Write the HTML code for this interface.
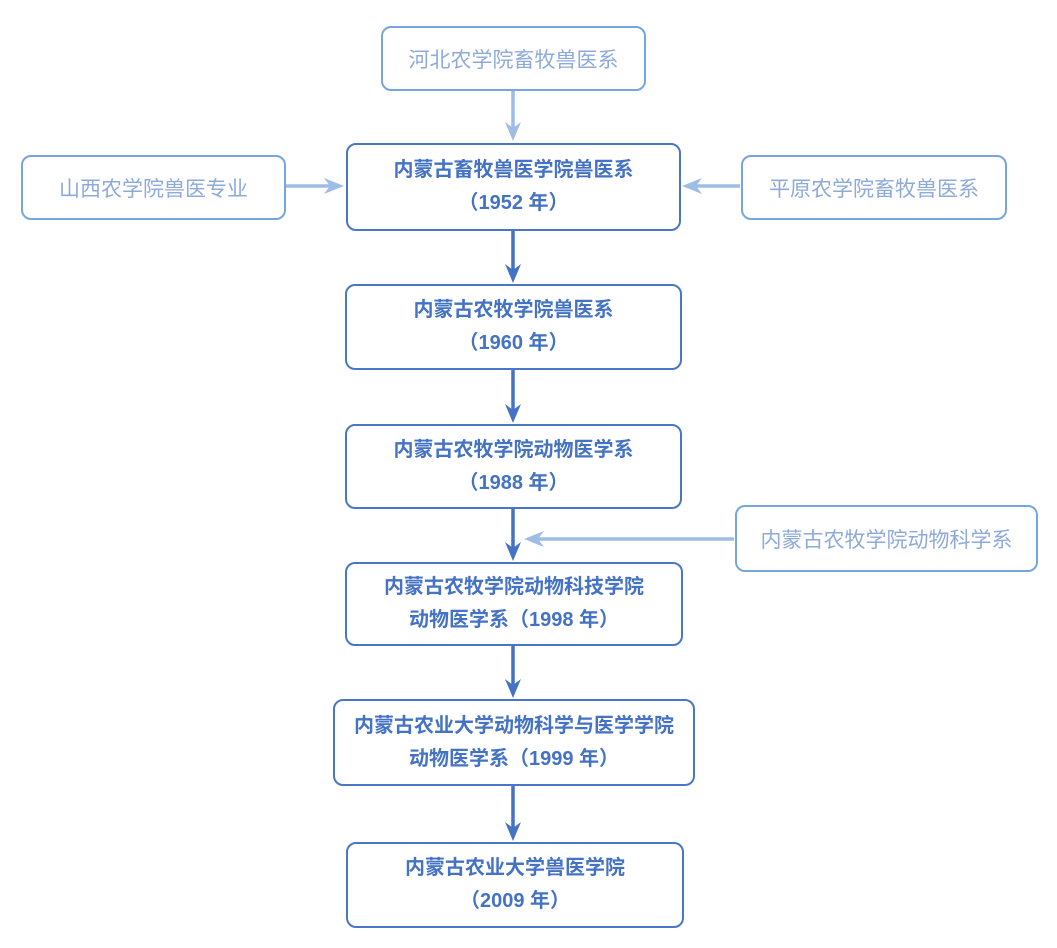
<!DOCTYPE html>
<html><head><meta charset="utf-8"><style>
body{margin:0;width:1057px;height:948px;background:#fff;position:relative;font-family:"Liberation Sans","Noto Sans CJK SC",sans-serif;}
.b{position:absolute;box-sizing:border-box;border-radius:10px;display:flex;flex-direction:column;align-items:center;justify-content:center;text-align:center;}
.m{border:2px solid #4a76c6;color:#4472c4;font-weight:bold;font-size:20px;line-height:33px;}
.l{border:2px solid #77a5de;color:#8eaadb;font-size:21px;}
svg{position:absolute;left:0;top:0;}
</style></head><body>
<svg width="1057" height="948">
<g stroke="#4472c4" stroke-width="3.5" fill="none">
<line x1="513" y1="231" x2="513" y2="278"/>
<line x1="513" y1="370" x2="513" y2="418"/>
<line x1="513" y1="509" x2="513" y2="556"/>
<line x1="513" y1="646" x2="513" y2="693"/>
<line x1="513" y1="786" x2="513" y2="836"/>
</g>
<g fill="#4472c4">
<path d="M505,264 L513,283 L521,264 L513,270Z"/>
<path d="M505,404 L513,423 L521,404 L513,410Z"/>
<path d="M505,542 L513,561 L521,542 L513,548Z"/>
<path d="M505,679 L513,698 L521,679 L513,685Z"/>
<path d="M505,822 L513,841 L521,822 L513,828Z"/>
</g>
<g stroke="#9dbde6" stroke-width="3.5">
<line x1="513" y1="91" x2="513" y2="135"/>
<line x1="286" y1="186" x2="338" y2="186"/>
<line x1="740" y1="186" x2="688" y2="186"/>
<line x1="734" y1="539" x2="530" y2="539"/>
</g>
<g fill="#9dbde6">
<path d="M505,122 L513,141 L521,122 L513,128Z"/>
<path d="M324,178 L344,186 L324,194 L330,186Z"/>
<path d="M702,178 L682,186 L702,194 L696,186Z"/>
<path d="M544,531 L524,539 L544,547 L538,539Z"/>
</g>
</svg>
<div class="b l" style="left:381px;top:26px;width:265px;height:65px">河北农学院畜牧兽医系</div>
<div class="b l" style="left:21px;top:155px;width:265px;height:65px">山西农学院兽医专业</div>
<div class="b l" style="left:741px;top:155px;width:266px;height:65px">平原农学院畜牧兽医系</div>
<div class="b l" style="left:735px;top:505px;width:303px;height:67px">内蒙古农牧学院动物科学系</div>
<div class="b m" style="left:346px;top:143px;width:335px;height:88px">内蒙古畜牧兽医学院兽医系<br>（1952 年）</div>
<div class="b m" style="left:345px;top:284px;width:337px;height:86px">内蒙古农牧学院兽医系<br>（1960 年）</div>
<div class="b m" style="left:345px;top:424px;width:337px;height:85px">内蒙古农牧学院动物医学系<br>（1988 年）</div>
<div class="b m" style="left:345px;top:562px;width:338px;height:84px">内蒙古农牧学院动物科技学院<br>动物医学系（1998 年）</div>
<div class="b m" style="left:333px;top:699px;width:362px;height:87px">内蒙古农业大学动物科学与医学学院<br>动物医学系（1999 年）</div>
<div class="b m" style="left:346px;top:842px;width:338px;height:86px">内蒙古农业大学兽医学院<br>（2009 年）</div>
</body></html>
